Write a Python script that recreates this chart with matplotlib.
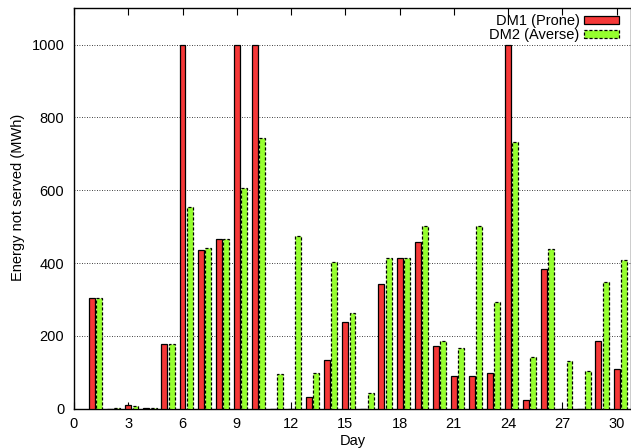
import matplotlib
matplotlib.use("Agg")
import matplotlib.pyplot as plt
import numpy as np

days = list(range(1, 31))
dm1_prone = [303, 0, 10, 3, 177, 1000, 437, 465, 1000, 1000,
             0, 0, 31, 134, 239, 0, 343, 413, 458, 171,
             89, 91, 98, 1000, 24, 384, 0, 0, 186, 109]
dm2_averse = [303, 2, 8, 3, 177, 555, 442, 465, 606, 745,
              94, 474, 99, 403, 264, 42, 413, 413, 503, 187,
              166, 502, 293, 734, 142, 438, 131, 104, 349, 408]
series_labels = ["DM1 (Prone)", "DM2 (Averse)"]
xticks = list(range(0, 31, 3))
yticks = list(range(0, 1001, 200))

plt.rcParams['font.family'] = ['Liberation Sans', 'DejaVu Sans']
plt.rcParams['font.size'] = 10.5

fig = plt.figure(figsize=(6.31, 4.48), dpi=100)
ax = fig.add_axes([74/631, 1 - 408.7/448, (631 - 74)/631, (408.7 - 8.3)/448])

x = np.array(days, dtype=float)
w = 0.33
red = "#f53838"
green = "#96ff2e"

ax.bar(x, dm1_prone, width=w, color=red, edgecolor="black",
       linewidth=0.9, label=series_labels[0], zorder=3)
ax.bar(x + 0.4, dm2_averse, width=w, color=green, edgecolor="black",
       linewidth=0.9, linestyle=(0, (2.5, 1.5)), label=series_labels[1], zorder=3)

ax.set_xlim(0, 30.8)
ax.set_ylim(0, 1100)
ax.set_xticks(xticks)
ax.set_yticks(yticks)
ax.tick_params(axis='x', direction='in', top=True, length=5, width=0.8, pad=6)
ax.tick_params(axis='y', direction='in', right=True, length=0, pad=7)
ax.yaxis.grid(True, linestyle=(0, (1, 2)), color="black", linewidth=0.6, zorder=1)
ax.set_axisbelow(True)
for s in ax.spines.values():
    s.set_linewidth(1.0)

ax.set_xlabel("Day", labelpad=2)
ax.set_ylabel("Energy not served (MWh)")
ax.yaxis.set_label_coords(-0.088, 0.529)

leg = ax.legend(loc="upper right", bbox_to_anchor=(1 - 12/557, 1 - 6/400),
                frameon=False, markerfirst=False,
                handlelength=2.4, handleheight=0.4, handletextpad=0.3,
                labelspacing=0.0, borderaxespad=0.0, borderpad=0.0)
for t in leg.get_texts():
    t.set_ha("right")

fig.savefig("out.png", dpi=100)
